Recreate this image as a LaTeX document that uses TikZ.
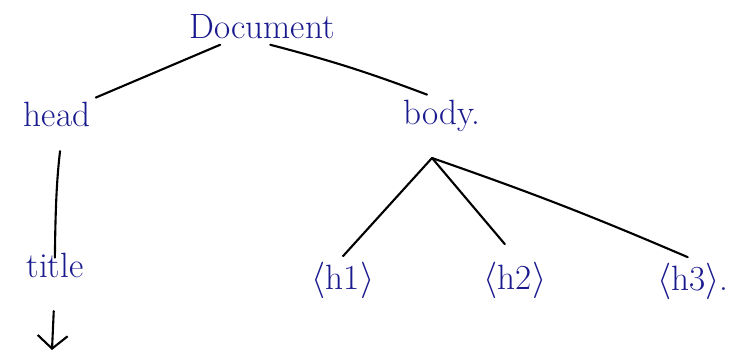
\documentclass[tikz,border=0pt]{standalone}
\usepackage{xcolor}
\usetikzlibrary{arrows.meta,positioning}
\definecolor{ink}{HTML}{1A1A8F}
\tikzset{lab/.style={font=\fontsize{20}{24}\selectfont, text=ink, inner sep=3pt}, edge/.style={line width=1.2pt, line cap=round}, down/.style={edge, -{Straight Barb[length=2.6mm,width=6mm]}}}

\begin{document}
\begin{tikzpicture}[scale=1]
\useasboundingbox (0,0) rectangle (14.78,7.06);
\node[lab] (doc) at (5.24,6.52) {Document};
\node[lab] (head) at (1.14,4.78) {head}; \node[lab] (body) at (8.84,4.74) {body.};
\node[lab] (title) at (1.10,1.76) {title};
\node[lab] (h1) at (6.86,1.46) {$\langle$h1$\rangle$}; \node[lab] (h2) at (10.30,1.46) {$\langle$h2$\rangle$}; \node[lab] (h3) at (13.86,1.44) {$\langle$h3$\rangle$.};
\coordinate (fork) at (8.64,3.90); \coordinate (titleend) at (1.04,0.06);
% tree edges
\draw[edge] (doc) -- (head);
\draw[edge] (doc.-65) to[bend left=3] (body.125);
\draw[edge, shorten <=11pt, shorten >=-6pt] ([xshift=3pt]head.south) to[bend right=3] (title.north);
\draw[edge] (fork) -- (h1.north); \draw[edge, shorten >=9pt] (fork) -- (h2.north);
\draw[edge] (fork) to[bend left=2] ([xshift=-3pt]h3.north);
\draw[down, shorten <=16pt] (title.south) -- (titleend);
\end{tikzpicture}
\end{document}
